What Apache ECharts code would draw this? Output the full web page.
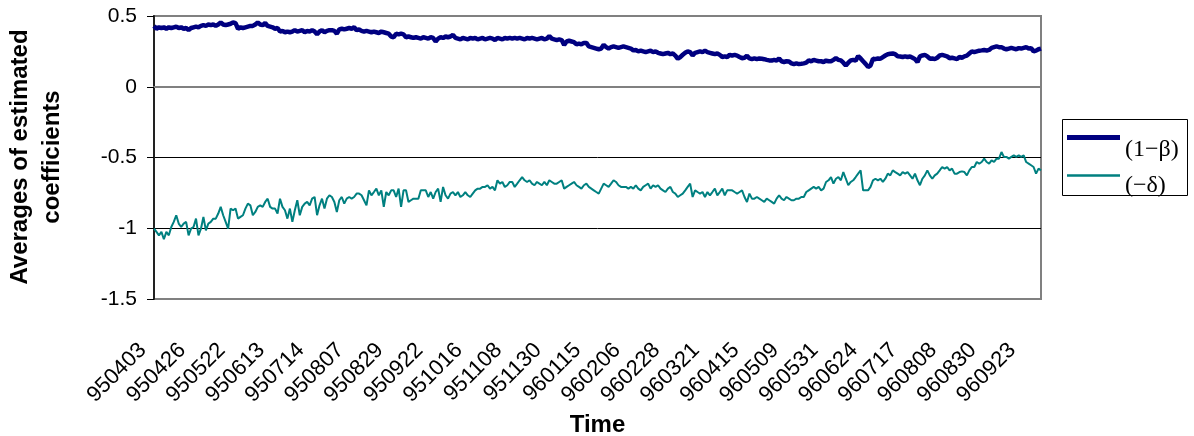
<!DOCTYPE html>
<html>
<head>
<meta charset="utf-8">
<script src="https://cdn.jsdelivr.net/npm/echarts@6/dist/echarts.min.js"></script>
<style>
  html, body { margin: 0; padding: 0; background: #fff; }
  #chart { width: 1194px; height: 436px; }
</style>
</head>
<body>
<div id="chart"></div>
<script>
// tick labels, one every 16 trading days
const tickLabels = ['950403','950426','950522','950613','950714','950807','950829','950922',
  '951016','951108','951130','960115','960206','960228','960321','960415','960509','960531',
  '960624','960717','960808','960830','960923'];
const tickStep = 16;

// (1-beta)
const oneMinusBeta = [
  0.43,0.41,0.42,0.415,0.42,0.41,0.42,0.415,0.42,0.425,
  0.415,0.42,0.41,0.415,0.40,0.415,0.42,0.425,0.42,0.43,
  0.435,0.43,0.44,0.435,0.44,0.43,0.44,0.455,0.44,0.435,
  0.44,0.445,0.455,0.45,0.41,0.42,0.415,0.42,0.425,0.43,
  0.43,0.44,0.455,0.44,0.435,0.45,0.43,0.425,0.42,0.41,
  0.415,0.39,0.395,0.385,0.39,0.385,0.39,0.40,0.39,0.395,
  0.40,0.385,0.395,0.39,0.40,0.39,0.37,0.39,0.40,0.385,
  0.395,0.40,0.40,0.395,0.375,0.405,0.41,0.405,0.41,0.415,
  0.41,0.42,0.40,0.405,0.395,0.39,0.395,0.39,0.385,0.39,
  0.385,0.38,0.39,0.385,0.38,0.375,0.355,0.35,0.375,0.37,
  0.375,0.37,0.35,0.355,0.35,0.345,0.35,0.345,0.34,0.35,
  0.345,0.34,0.35,0.345,0.32,0.34,0.35,0.345,0.355,0.35,
  0.355,0.367,0.345,0.34,0.335,0.345,0.34,0.335,0.345,0.34,
  0.345,0.335,0.34,0.345,0.335,0.34,0.345,0.34,0.33,0.345,
  0.34,0.335,0.345,0.34,0.345,0.34,0.345,0.34,0.345,0.34,
  0.335,0.345,0.34,0.345,0.34,0.335,0.34,0.345,0.335,0.34,
  0.358,0.34,0.335,0.33,0.335,0.33,0.296,0.32,0.325,0.32,
  0.315,0.30,0.305,0.30,0.31,0.31,0.285,0.28,0.275,0.27,
  0.265,0.27,0.296,0.28,0.27,0.28,0.285,0.28,0.275,0.28,
  0.285,0.28,0.275,0.27,0.257,0.26,0.25,0.255,0.25,0.245,
  0.25,0.255,0.245,0.25,0.24,0.235,0.23,0.235,0.24,0.23,
  0.235,0.22,0.198,0.21,0.226,0.24,0.25,0.245,0.221,0.24,
  0.245,0.25,0.245,0.255,0.245,0.24,0.235,0.23,0.235,0.225,
  0.21,0.215,0.21,0.226,0.22,0.225,0.22,0.21,0.202,0.205,
  0.22,0.20,0.195,0.20,0.195,0.20,0.198,0.195,0.19,0.186,
  0.185,0.19,0.185,0.20,0.18,0.175,0.18,0.178,0.165,0.16,
  0.165,0.16,0.162,0.165,0.17,0.186,0.18,0.19,0.185,0.18,
  0.18,0.175,0.185,0.18,0.18,0.19,0.202,0.19,0.186,0.17,
  0.15,0.17,0.186,0.19,0.185,0.217,0.20,0.18,0.162,0.14,
  0.15,0.198,0.195,0.20,0.198,0.21,0.221,0.23,0.233,0.235,
  0.23,0.215,0.214,0.21,0.215,0.21,0.214,0.205,0.195,0.174,
  0.215,0.221,0.225,0.215,0.198,0.20,0.195,0.205,0.221,0.225,
  0.22,0.215,0.202,0.205,0.20,0.195,0.21,0.205,0.215,0.22,
  0.235,0.25,0.245,0.25,0.255,0.257,0.26,0.255,0.26,0.275,
  0.28,0.285,0.28,0.28,0.27,0.265,0.27,0.275,0.27,0.265,
  0.273,0.27,0.275,0.28,0.27,0.273,0.25,0.255,0.265,0.27
];

// (-delta)
const minusDelta = [
  -1.003,-1.026,-1.050,-1.026,-1.078,-1.026,-1.050,-0.991,-0.955,-0.908,
  -0.967,-0.991,-0.967,-0.955,-1.050,-1.003,-0.991,-0.932,-1.050,-1.003,
  -0.920,-1.015,-0.967,-0.955,-0.932,-0.932,-0.896,-0.849,-0.908,-0.955,
  -1.003,-0.861,-0.873,-0.861,-0.932,-0.920,-0.908,-0.861,-0.826,-0.838,
  -0.908,-0.885,-0.849,-0.838,-0.849,-0.814,-0.791,-0.849,-0.861,-0.861,
  -0.896,-0.791,-0.849,-0.873,-0.932,-0.861,-0.955,-0.873,-0.802,-0.908,
  -0.849,-0.826,-0.814,-0.838,-0.791,-0.779,-0.908,-0.838,-0.791,-0.861,
  -0.791,-0.767,-0.779,-0.814,-0.885,-0.802,-0.779,-0.826,-0.791,-0.779,
  -0.791,-0.779,-0.755,-0.755,-0.767,-0.802,-0.838,-0.732,-0.767,-0.744,
  -0.720,-0.767,-0.732,-0.849,-0.744,-0.767,-0.732,-0.732,-0.779,-0.720,
  -0.849,-0.732,-0.732,-0.814,-0.802,-0.791,-0.791,-0.791,-0.732,-0.732,
  -0.732,-0.779,-0.744,-0.791,-0.744,-0.720,-0.814,-0.708,-0.767,-0.791,
  -0.755,-0.744,-0.767,-0.744,-0.779,-0.767,-0.744,-0.767,-0.779,-0.755,
  -0.732,-0.720,-0.720,-0.708,-0.708,-0.696,-0.720,-0.708,-0.732,-0.661,
  -0.685,-0.673,-0.708,-0.696,-0.673,-0.673,-0.708,-0.685,-0.661,-0.638,
  -0.661,-0.673,-0.661,-0.685,-0.696,-0.673,-0.685,-0.696,-0.673,-0.696,
  -0.661,-0.673,-0.685,-0.685,-0.673,-0.661,-0.720,-0.708,-0.696,-0.685,
  -0.673,-0.696,-0.708,-0.720,-0.696,-0.685,-0.708,-0.720,-0.732,-0.744,
  -0.755,-0.720,-0.685,-0.696,-0.708,-0.685,-0.661,-0.673,-0.696,-0.708,
  -0.708,-0.708,-0.720,-0.708,-0.720,-0.696,-0.720,-0.732,-0.708,-0.696,
  -0.685,-0.720,-0.696,-0.708,-0.696,-0.720,-0.732,-0.744,-0.720,-0.708,
  -0.744,-0.755,-0.779,-0.767,-0.755,-0.732,-0.708,-0.685,-0.779,-0.732,
  -0.744,-0.755,-0.744,-0.779,-0.744,-0.767,-0.744,-0.720,-0.767,-0.744,
  -0.720,-0.767,-0.732,-0.732,-0.732,-0.744,-0.755,-0.744,-0.732,-0.779,
  -0.814,-0.755,-0.791,-0.791,-0.779,-0.791,-0.802,-0.814,-0.791,-0.802,
  -0.814,-0.826,-0.791,-0.767,-0.791,-0.802,-0.779,-0.791,-0.802,-0.802,
  -0.791,-0.791,-0.779,-0.779,-0.744,-0.732,-0.720,-0.708,-0.720,-0.708,
  -0.732,-0.720,-0.673,-0.661,-0.638,-0.685,-0.650,-0.638,-0.661,-0.603,
  -0.650,-0.696,-0.673,-0.661,-0.638,-0.614,-0.591,-0.732,-0.732,-0.732,
  -0.708,-0.661,-0.650,-0.661,-0.650,-0.673,-0.650,-0.614,-0.626,-0.591,
  -0.603,-0.614,-0.626,-0.603,-0.614,-0.603,-0.626,-0.650,-0.614,-0.661,
  -0.696,-0.650,-0.626,-0.591,-0.626,-0.650,-0.626,-0.614,-0.591,-0.567,
  -0.579,-0.567,-0.591,-0.579,-0.614,-0.614,-0.603,-0.598,-0.603,-0.626,
  -0.591,-0.567,-0.567,-0.532,-0.543,-0.532,-0.508,-0.532,-0.543,-0.520,
  -0.532,-0.508,-0.508,-0.461,-0.496,-0.496,-0.508,-0.496,-0.485,-0.496,
  -0.485,-0.496,-0.485,-0.532,-0.543,-0.555,-0.567,-0.614,-0.579,-0.591
];

// one category per observation, labelled every tickStep
const categories = oneMinusBeta.map(function (v, i) {
  return i % tickStep === 0 ? (tickLabels[i / tickStep] || '') : String(i);
});

const sans = "'Liberation Sans', Arial, sans-serif";
const serif = "'Liberation Serif', 'Times New Roman', serif";

// legend keys: bar at the top of a 53x29 box so the text sits below it
const navyKey = 'path://M0,0H53V5H0Z M0,29L0.01,29';
const tealKey = 'path://M0,3.25H53V5.75H0Z M0,0L0.01,0 M0,29L0.01,29';

const graphics = [
  {
    type: 'rect', left: 1062, top: 119, z: 0,
    shape: { width: 125, height: 76 },
    style: { fill: '#fff', stroke: '#000', lineWidth: 1 }
  },
  {
    type: 'text', x: 36, y: 157, rotation: Math.PI / 2,
    style: {
      text: 'Averages of estimated\ncoefficients',
      font: 'bold 24px ' + sans, fill: '#000',
      align: 'center', verticalAlign: 'middle', lineHeight: 32
    }
  }
];

const chart = echarts.init(document.getElementById('chart'));
chart.setOption({
  backgroundColor: '#fff',
  animation: false,
  grid: {
    left: 154, right: 153, top: 16, bottom: 137,
    outerBoundsMode: 'none', containLabel: false,
    show: true, borderColor: '#808080', borderWidth: 2, backgroundColor: 'transparent'
  },
  legend: {
    orient: 'vertical',
    left: 1067, top: 135,
    padding: 0,
    itemWidth: 53, itemHeight: 29, itemGap: 7,
    textStyle: { fontFamily: serif, fontSize: 24, color: '#000' },
    data: [
      { name: '(1\u2212\u03b2)', icon: navyKey },
      { name: '(\u2212\u03b4)', icon: tealKey }
    ]
  },
  graphic: graphics,
  xAxis: {
    type: 'category',
    data: categories,
    boundaryGap: false,
    name: 'Time',
    nameLocation: 'middle',
    nameGap: 114,
    nameMoveOverlap: false,
    nameTextStyle: { fontFamily: sans, fontSize: 24, fontWeight: 'bold', color: '#000' },
    axisLine: { lineStyle: { color: '#808080', width: 2 } },
    axisTick: { show: false },
    // drawn below as rotated texts at the axis' own pixel positions
    axisLabel: { show: false },
    splitLine: { show: false }
  },
  yAxis: {
    type: 'value',
    min: -1.5, max: 0.5, interval: 0.5,
    axisLine: { show: true, lineStyle: { color: '#222', width: 2 } },
    axisTick: { show: true, length: 7, lineStyle: { color: '#000', width: 1 } },
    axisLabel: { margin: 17, fontFamily: sans, fontSize: 21, color: '#000' },
    splitLine: { show: true, lineStyle: { color: ['#808080', '#000', '#000', '#000', '#808080'], width: 1 } }
  },
  series: [
    {
      name: '(1\u2212\u03b2)',
      type: 'line',
      data: oneMinusBeta,
      showSymbol: false,
      color: '#000080',
      lineStyle: { color: '#000080', width: 4.5 },
      z: 3
    },
    {
      name: '(\u2212\u03b4)',
      type: 'line',
      data: minusDelta,
      showSymbol: false,
      color: '#008080',
      lineStyle: { color: '#008080', width: 2 },
      z: 3
    }
  ]
});

// 45-degree date labels hung under each labelled category
const axisY = chart.convertToPixel({ yAxisIndex: 0 }, -1.5);
const dateLabels = tickLabels.map(function (t, k) {
  const x = chart.convertToPixel({ xAxisIndex: 0 }, k * tickStep);
  return {
    type: 'text', x: x - 19, y: axisY + 40, rotation: Math.PI / 4,
    style: { text: t, font: '22px ' + sans, fill: '#000', align: 'right', verticalAlign: 'top' }
  };
});
chart.setOption({ graphic: graphics.concat(dateLabels) });
</script>
</body>
</html>
